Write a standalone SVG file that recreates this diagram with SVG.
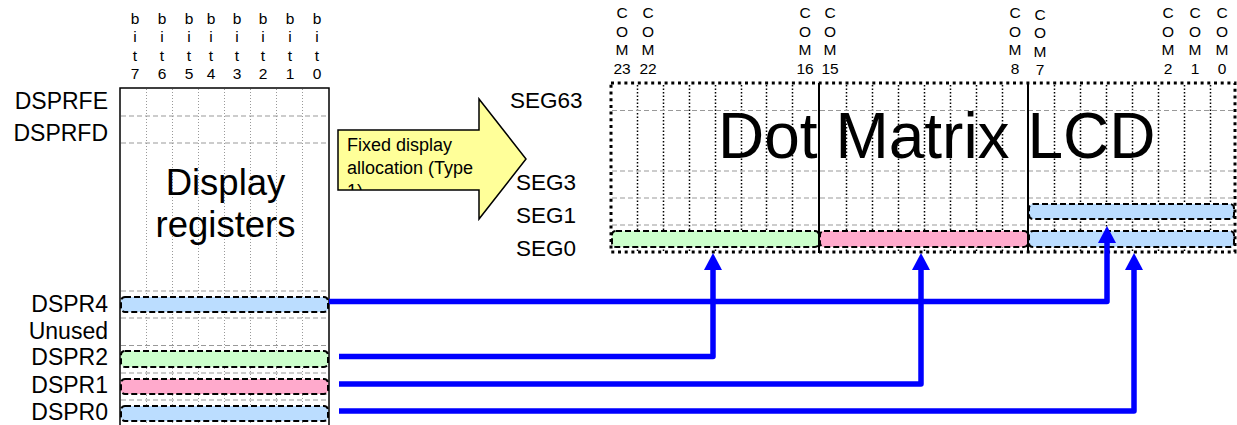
<svg xmlns="http://www.w3.org/2000/svg" width="1237" height="425" viewBox="0 0 1237 425">
<style>
text{font-family:"Liberation Sans",Arial,sans-serif;fill:#000}
.lbl{font-size:23px;text-anchor:end}
.seg{font-size:22.5px}
.bit{font-size:15.5px;text-anchor:middle}
.gdash{stroke:#999;stroke-width:1;stroke-dasharray:5 3;fill:none}
.gdot{stroke:#999;stroke-width:1;stroke-dasharray:1 2;fill:none}
.kdot{stroke:#000;stroke-width:1.5;stroke-dasharray:1.5 2;fill:none}
.bar{stroke:#000;stroke-width:2;stroke-dasharray:6 3}
.blue{fill:#BBDDFF}
.green{fill:#CCFFCC}
.pink{fill:#FFAACC}
.conn{stroke:#0000FF;stroke-width:5.5;fill:none;stroke-linejoin:round}
</style>
<defs>
<marker id="ah" markerUnits="userSpaceOnUse" markerWidth="18" markerHeight="18" viewBox="0 0 18 18" refX="0" refY="9" orient="auto">
<path d="M0,0 L17,9 L0,18 z" fill="#0000FF"/>
</marker>
<clipPath id="shaft"><rect x="338" y="130" width="141" height="60"/></clipPath>
</defs>
<rect width="1237" height="425" fill="#fff"/>

<g id="bit-labels">
<text class="bit" x="135" y="24">b</text><text class="bit" x="135" y="42.3">i</text><text class="bit" x="135" y="60.7">t</text><text class="bit" x="135" y="79">7</text>
<text class="bit" x="162" y="24">b</text><text class="bit" x="162" y="42.3">i</text><text class="bit" x="162" y="60.7">t</text><text class="bit" x="162" y="79">6</text>
<text class="bit" x="189" y="24">b</text><text class="bit" x="189" y="42.3">i</text><text class="bit" x="189" y="60.7">t</text><text class="bit" x="189" y="79">5</text>
<text class="bit" x="211" y="24">b</text><text class="bit" x="211" y="42.3">i</text><text class="bit" x="211" y="60.7">t</text><text class="bit" x="211" y="79">4</text>
<text class="bit" x="237" y="24">b</text><text class="bit" x="237" y="42.3">i</text><text class="bit" x="237" y="60.7">t</text><text class="bit" x="237" y="79">3</text>
<text class="bit" x="263" y="24">b</text><text class="bit" x="263" y="42.3">i</text><text class="bit" x="263" y="60.7">t</text><text class="bit" x="263" y="79">2</text>
<text class="bit" x="290" y="24">b</text><text class="bit" x="290" y="42.3">i</text><text class="bit" x="290" y="60.7">t</text><text class="bit" x="290" y="79">1</text>
<text class="bit" x="317" y="24">b</text><text class="bit" x="317" y="42.3">i</text><text class="bit" x="317" y="60.7">t</text><text class="bit" x="317" y="79">0</text>
</g>

<g id="register-labels">
<text class="lbl" x="108" y="109">DSPRFE</text>
<text class="lbl" x="108" y="141">DSPRFD</text>
<text class="lbl" x="108" y="312">DSPR4</text>
<text class="lbl" x="108" y="339">Unused</text>
<text class="lbl" x="108" y="365">DSPR2</text>
<text class="lbl" x="108" y="393">DSPR1</text>
<text class="lbl" x="108" y="420">DSPR0</text>
</g>

<g id="display-registers">
<path class="gdot" d="M146.5,89V430M172.5,89V430M198.5,89V430M224.5,89V430M250.5,89V430M276.5,89V430M302.5,89V430"/>
<path class="gdash" d="M121,116H328M121,143H328M121,291H328M121,318H328M121,345.5H328M121,373H328M121,400H328"/>
<rect class="bar blue" x="121" y="297" width="207" height="15" rx="4"/>
<rect class="bar green" x="121" y="351" width="207" height="16" rx="4"/>
<rect class="bar pink" x="121" y="379" width="207" height="15" rx="4"/>
<rect class="bar blue" x="121" y="406" width="207" height="15" rx="4"/>
<path d="M120,432V88H329V432" fill="none" stroke="#000" stroke-width="1.5"/>
<text x="225.5" y="195" font-size="36.5" text-anchor="middle">Display</text>
<text x="225.5" y="237" font-size="36.5" text-anchor="middle">registers</text>
</g>

<g id="allocation-arrow">
<polygon points="338,130 479,130 479,99 526,159 479,219 479,190 338,190" fill="#FFFF99" stroke="#000" stroke-width="1.5"/>
<g clip-path="url(#shaft)" font-size="18">
<text x="347" y="151">Fixed display</text>
<text x="347" y="174">allocation (Type</text>
<text x="347" y="197">1)</text>
</g>
</g>

<g id="seg-labels">
<text class="seg" x="510" y="108">SEG63</text>
<text class="seg" x="516" y="190">SEG3</text>
<text class="seg" x="516" y="223">SEG1</text>
<text class="seg" x="516" y="256">SEG0</text>
</g>

<g id="com-labels">
<text class="bit" x="622" y="18">C</text><text class="bit" x="622" y="36.5">O</text><text class="bit" x="622" y="55">M</text><text class="bit" x="622" y="73.5">23</text>
<text class="bit" x="648" y="18">C</text><text class="bit" x="648" y="36.5">O</text><text class="bit" x="648" y="55">M</text><text class="bit" x="648" y="73.5">22</text>
<text class="bit" x="805" y="18">C</text><text class="bit" x="805" y="36.5">O</text><text class="bit" x="805" y="55">M</text><text class="bit" x="805" y="73.5">16</text>
<text class="bit" x="830" y="18">C</text><text class="bit" x="830" y="36.5">O</text><text class="bit" x="830" y="55">M</text><text class="bit" x="830" y="73.5">15</text>
<text class="bit" x="1015" y="18">C</text><text class="bit" x="1015" y="36.5">O</text><text class="bit" x="1015" y="55">M</text><text class="bit" x="1015" y="73.5">8</text>
<text class="bit" x="1040" y="19.5">C</text><text class="bit" x="1040" y="38">O</text><text class="bit" x="1040" y="56.5">M</text><text class="bit" x="1040" y="75">7</text>
<text class="bit" x="1168" y="18">C</text><text class="bit" x="1168" y="36.5">O</text><text class="bit" x="1168" y="55">M</text><text class="bit" x="1168" y="73.5">2</text>
<text class="bit" x="1195" y="18">C</text><text class="bit" x="1195" y="36.5">O</text><text class="bit" x="1195" y="55">M</text><text class="bit" x="1195" y="73.5">1</text>
<text class="bit" x="1222" y="18">C</text><text class="bit" x="1222" y="36.5">O</text><text class="bit" x="1222" y="55">M</text><text class="bit" x="1222" y="73.5">0</text>
</g>

<g id="dot-matrix-lcd">
<path class="kdot" d="M637.5,85V251M663.5,85V251M689.5,85V251M715.5,85V251M741.5,85V251M766.5,85V251M792.5,85V251M846.5,85V251M872.5,85V251M898.5,85V251M924.5,85V251M950.5,85V251M976.5,85V251M1002.5,85V251M1054.5,85V251M1080.5,85V251M1106.5,85V251M1132.5,85V251M1158.5,85V251M1184.5,85V251M1210.5,85V251"/>
<path class="gdash" d="M612,110.5H1234M612,171H1234M612,198H1234M612,225H1234"/>
<rect class="bar blue" x="1029" y="204" width="205" height="15" rx="4"/>
<rect class="bar green" x="612" y="231" width="207" height="16" rx="4"/>
<rect class="bar pink" x="820" y="231" width="208" height="16" rx="4"/>
<rect class="bar blue" x="1029" y="231" width="205" height="16" rx="4"/>
<path d="M819,83V253M1028,83V253" stroke="#000" stroke-width="2"/>
<rect x="611" y="83" width="624" height="169" fill="none" stroke="#000" stroke-width="3" stroke-dasharray="3 3.7"/>
<text x="718" y="158" font-size="64">Dot Matrix LCD</text>
</g>

<g id="connectors">
<path class="conn" d="M329,301.5H1107V243" marker-end="url(#ah)"/>
<path class="conn" d="M339,356.5H713V270" marker-end="url(#ah)"/>
<path class="conn" d="M339,384H921V270" marker-end="url(#ah)"/>
<path class="conn" d="M339,411H1134V270" marker-end="url(#ah)"/>
</g>
</svg>
